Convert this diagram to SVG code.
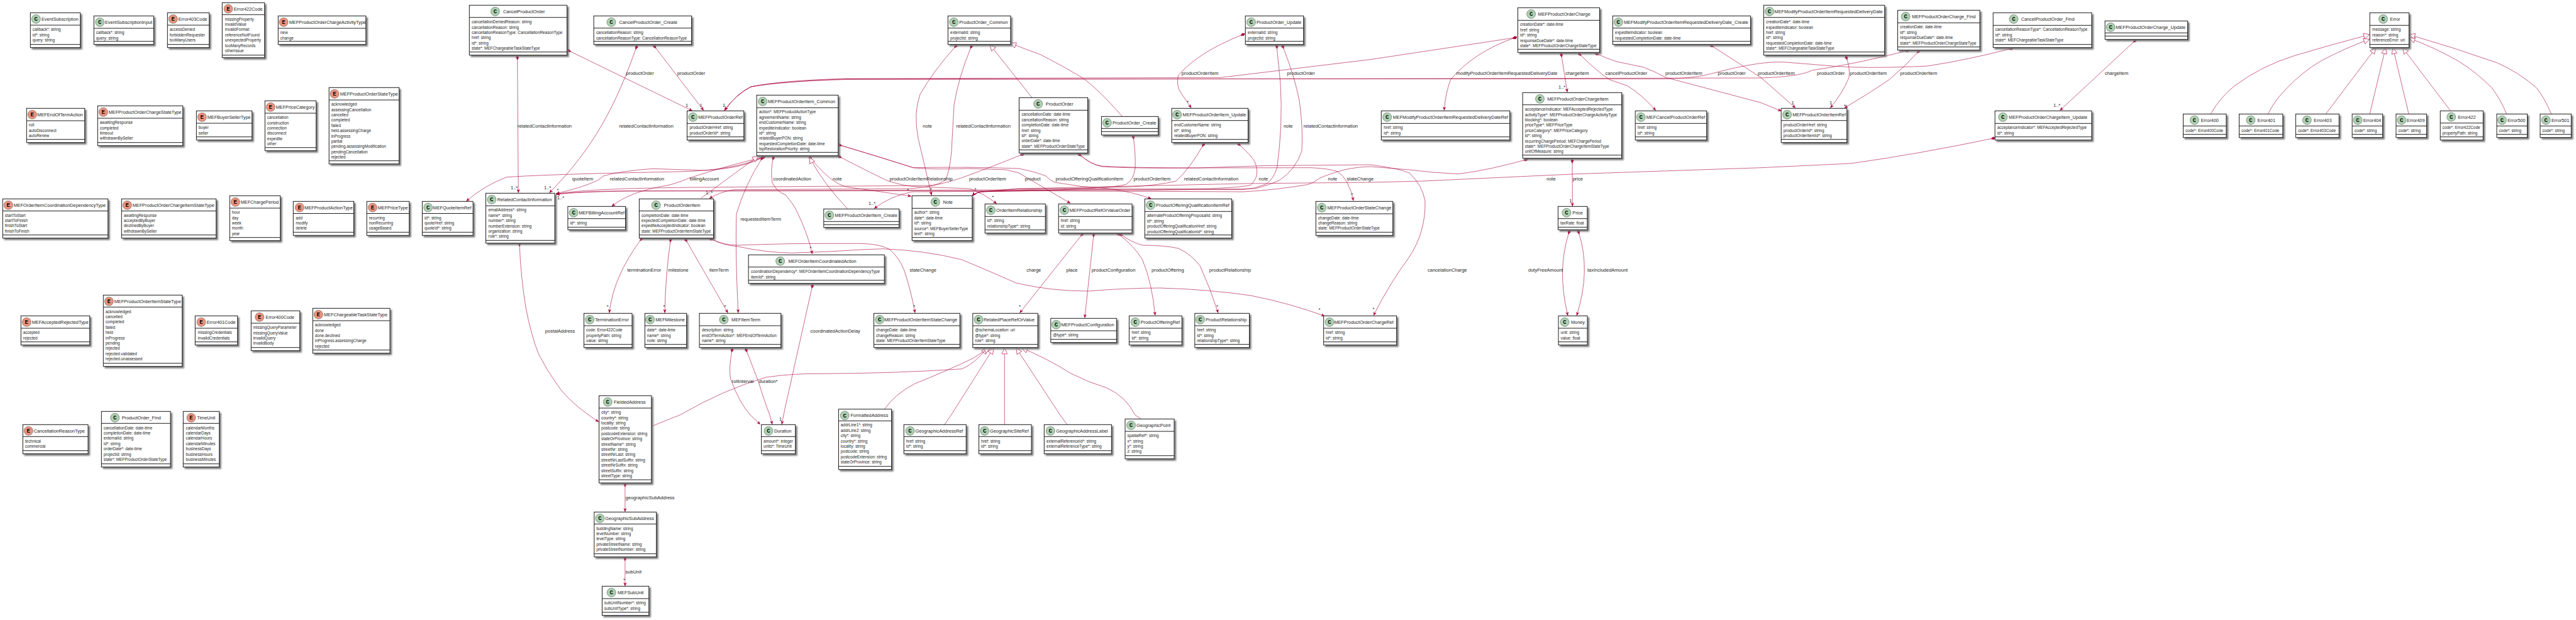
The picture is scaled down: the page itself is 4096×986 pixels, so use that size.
<svg xmlns="http://www.w3.org/2000/svg" width="4096" height="986" viewBox="0 0 4096 986">
<defs>
<filter id="s" x="-15%" y="-15%" width="135%" height="135%"><feDropShadow dx="2.6" dy="2.6" stdDeviation="0.9" flood-color="#777"/></filter>
<marker id="d" markerUnits="userSpaceOnUse" markerWidth="10" markerHeight="8" refX="4" refY="4" orient="auto"><polygon points="0,4 3.6,1.8 7.6,4 3.6,6.2" fill="#A80036" stroke="#A80036" stroke-width=".4"/></marker>
<marker id="a" markerUnits="userSpaceOnUse" markerWidth="8" markerHeight="8" refX="7" refY="4" orient="auto"><polygon points="1,1.4 7,4 1,6.6 2.8,4" fill="#A80036"/></marker>
<marker id="t" markerUnits="userSpaceOnUse" markerWidth="12" markerHeight="12" refX="11" refY="6" orient="auto"><polygon points="1.5,1.6 11,6 1.5,10.4" fill="#fff" stroke="#A80036" stroke-width=".6"/></marker>
</defs>
<style>
rect{fill:#fff;stroke:#111;stroke-width:.95;filter:url(#s)}
.l{fill:none;stroke:#111;stroke-width:.95}
circle{stroke:#444;stroke-width:.5}
.C circle{fill:#ADD1B2}
.E circle{fill:#EB937F}
text{font-family:"Liberation Sans",Arial,sans-serif;fill:#222}
.k{font-family:"Liberation Mono",monospace;font-weight:bold;font-size:9px;text-anchor:middle;fill:#000}
.t{font-size:7.3px}
.r{font-size:6.4px}
.m{font-size:7.5px}
.e{fill:none;stroke:#A80036;stroke-width:.6;marker-start:url(#d);marker-end:url(#a)}
.g{fill:none;stroke:#A80036;stroke-width:.6;marker-end:url(#t)}
</style>
<g id="connectors">
<path class="e" d="M822.7 91.7L824.2 306.7"/>
<path class="e" d="M904.5 80.7L1101 176.3"/>
<path class="e" d="M1012 75C980 165 945 235 873.4 306.7"/>
<path class="e" d="M1040.9 74L1118.9 175.7"/>
<path class="e" d="M2408.5 60L2180 94.5Q2060 109 1941 123.3L1345 125Q1240 128 1194 138Q1170 150 1152 175.7"/>
<path class="e" d="M3197.8 77.3Q3130 95 3065 105Q2960 110 2902 104L2840 99Q2800 96 2723 116.7Q2700 124 2650 125.5L1345 125.5Q1240 130 1194 138Q1170 150 1152 175.7"/>
<path class="e" d="M3032.6 80.7Q2950 102 2881.6 111.7Q2862 122 2800 124L1345 126.5Q1240 129 1194 138Q1170 150 1152 175.7"/>
<path class="e" d="M2408.5 60Q2343 83 2306.5 126.7Q2298 150 2296.3 175.7"/>
<path class="e" d="M2482.7 87.3L2492.1 146.7"/>
<path class="e" d="M2511.7 86Q2535 110 2559.4 126.7Q2575 132 2588 136.7Q2610 150 2632.9 175.7"/>
<path class="e" d="M2539 85.7Q2555 93 2571.7 98.3Q2595 103 2612.5 106.7Q2630 113 2649 123.3L2800 163.3L2832.6 176.7"/>
<path class="e" d="M2721.4 72.7L2800 123.3L2855 171.7"/>
<path class="e" d="M2935.9 91.7Q2942 108 2940 123.3Q2930 148 2910.2 171.7"/>
<path class="e" d="M3050.5 81.7Q3030 105 3004 126.7Q2970 150 2932.6 171.7"/>
<path class="e" d="M3394.5 65L3275.3 175.7"/>
<path class="e" d="M3169.2 220Q3050 245 2942.8 260L2800 266.7L2506 276.7L2261 288L2180 290L1977 292Q1800 296 1620 300L1560 305Q1550 307 1546 311.7"/>
<path class="e" d="M2426 254Q2370 270 2319 276.7Q2280 275 2241 270L2180 265Q2160 265 2137.7 270Q2115 276 2098.4 283.3Q2090 290 2080.5 293.3Q2030 302 1977 305L1620 303.3L1560 305Q1550 307 1546 311.7"/>
<path class="e" d="M2500 256L2500.3 328.3"/>
<path class="e" d="M1716.4 245.7Q1735 262 1752 265Q1800 268 1905 267L2084 266.7Q2115 268 2127 273Q2145 285 2152 319.3"/>
<path class="e" d="M1716.4 245.7Q1735 262 1752 264Q1800 267 1905 267L2012 263.5L2180 262Q2225 268 2241 275Q2262 295 2266 320Q2267 370 2240 410Q2210 450 2184 501.7"/>
<path class="e" d="M1213.5 250Q1167 271 1080 273L984 275Q860 278 805.6 281.7Q770 295 741.4 320"/>
<path class="e" d="M1213.5 250Q1180 268 1120 271L1037.7 268.3Q985 272 959 280Q950 292 884 308"/>
<path class="e" d="M1213.5 250Q1150 265 1095.7 283.3Q1075 292 1060 295Q1000 305 972.7 328.3"/>
<path class="e" d="M1625.4 245.7Q1570 268 1527.7 283.3Q1490 296 1450 300L1167 301.7Q1145 305 1127.8 315.7"/>
<path class="g" d="M1115 315L1206 248"/>
<path class="e" d="M1211.7 251.7Q1185 293 1171 340Q1169 400 1173.8 497.7"/>
<path class="e" d="M1229.6 251Q1225 270 1227.8 290Q1235 305 1249 310Q1262 325 1267 336Q1285 373 1291.6 404"/>
<path class="e" d="M1288.5 251Q1320 290 1345 297Q1400 305 1449 312"/>
<path class="g" d="M1347.4 331.7Q1310 293 1287 250"/>
<path class="e" d="M1335 249.3Q1375 270 1410 287Q1440 297 1460 297L1542 300Q1565 308 1584.8 324"/>
<path class="e" d="M1335 230.7Q1400 250 1452 266.7Q1480 270 1540 268L1600 270L1620 275L1702 323.3"/>
<path class="e" d="M1335 230.7Q1400 250 1452 266.7Q1540 265 1620 268Q1650 274 1663 280Q1670 287 1677 290Q1720 298 1763 300Q1800 305 1830.6 316"/>
<path class="e" d="M1519.8 73.3Q1484 113 1463 150Q1452 180 1460 220L1481.3 310.7"/>
<path class="e" d="M1544.4 74Q1524 123 1517 167Q1514 220 1513 240Q1510 275 1502.7 286.7Q1490 295 1477 295L1100 298Q920 300 884 309"/>
<path class="g" d="M1641 155.3L1574 71"/>
<path class="g" d="M1784.2 185Q1745 140 1720 123Q1690 105 1655 87Q1630 78 1606 68.5"/>
<path class="e" d="M1802 217.7Q1806 245 1805 267Q1803 285 1791 293Q1770 300 1620 304L1450 305Q1415 312 1390 331.7"/>
<path class="e" d="M1976 55Q1905 83 1873.5 120Q1870 135 1877 146.7L1894.2 171.7"/>
<path class="e" d="M2030.2 74L2036 133Q2040 200 2030.5 267Q2025 285 2012.7 293Q1995 300 1977 301.7L1620 300L1560 305Q1550 307 1546 311.7"/>
<path class="e" d="M2039.8 74Q2059 123 2066 160Q2072 200 2070 240Q2060 270 2034 287Q2010 297 1995 300L1798 303L1000 304Q920 305 884 309"/>
<path class="e" d="M1969.9 229.3Q1992 250 1995 257Q2005 280 1987.7 295Q1950 300 1905 300L1620 302.7L1560 305Q1550 307 1546 311.7"/>
<path class="e" d="M1913.5 230Q1892 268 1870 288Q1840 295 1798 297L1620 302L1000 303.5Q920 304 884 309"/>
<path class="e" d="M1019.8 380Q975 440 968.8 497.7"/>
<path class="e" d="M1066.2 381.7Q1058 440 1057 497.7"/>
<path class="e" d="M1090.7 381.7L1157.5 497.7"/>
<path class="e" d="M1130.5 380Q1150 390 1173 392Q1220 402 1259.5 402.3L1320 400L1369 397L1403 395.7Q1470 398 1529.6 413Q1575 432 1615.7 450Q1670 463 1730.5 463Q1790 458 1845 458Q1920 460 1988.8 470Q2050 482 2106.5 502.7"/>
<path class="e" d="M1130.5 380Q1150 390 1173 390Q1250 387 1320 387.3L1369 387.3Q1400 388 1414.8 396.7Q1430 410 1437.8 430Q1448 460 1455 497.7"/>
<path class="e" d="M1720.7 372.7L1621.4 497.7"/>
<path class="e" d="M1739 373.3L1724.8 505.7"/>
<path class="e" d="M1778 372.3Q1803 390 1816.6 413.3Q1832 450 1836.7 501.7"/>
<path class="e" d="M1782 372.7Q1798 385 1816.6 390Q1850 390 1874 395Q1895 405 1908.4 423.3Q1925 460 1937 497.7"/>
<path class="e" d="M826 388.3Q828 440 836.2 490Q845 535 856.6 563.3Q870 590 887 613Q905 640 952 671"/>
<path class="e" d="M993.9 770.7V814"/>
<path class="e" d="M993.9 888.3V932.3"/>
<path class="e" d="M1164 556.7Q1158 590 1162 603Q1175 640 1193 660L1209 675"/>
<path class="e" d="M1186.6 556.7L1206 607Q1216 640 1224 660L1228 675"/>
<path class="e" d="M1291.6 455L1248 650L1243 675"/>
<path class="e" d="M2495 369Q2475 430 2493 502"/>
<path class="e" d="M2510 369Q2530 430 2507 502"/>
<path class="g" d="M1036 678Q1060 668 1081 660Q1150 620 1218 600Q1260 594 1300 594.3Q1420 594 1529.6 586.7Q1550 578 1569.8 553.3"/>
<path class="g" d="M1406.8 650Q1425 625 1455 610Q1505 590 1546.8 570Q1562 560 1574.4 553.3"/>
<path class="g" d="M1501.8 675.3L1512.4 660L1580 553.3"/>
<path class="g" d="M1597.3 675.3V553.3"/>
<path class="g" d="M1697 675.3L1685.7 660L1615.7 553.3"/>
<path class="g" d="M1815 667L1805 660Q1790 630 1759.2 616.7Q1730 608 1701.8 593.3Q1665 570 1624.3 553.3"/>
<path class="g" d="M3515.3 181Q3530 155 3552.9 136.7Q3595 105 3649 88.3Q3710 70 3768 55"/>
<path class="g" d="M3606.4 181Q3618 158 3636.5 140Q3660 115 3690.8 96.7Q3730 76 3768 62.3"/>
<path class="g" d="M3698.3 181L3777.7 76"/>
<path class="g" d="M3768.1 181L3793.2 76"/>
<path class="g" d="M3830 181L3805 76"/>
<path class="g" d="M3896.5 176.3L3820.4 76"/>
<path class="g" d="M3985.5 181Q3976 158 3962.5 140Q3938 115 3908.2 96.7Q3870 75 3830.4 60.7"/>
<path class="g" d="M4056.6 181Q4047 158 4033.6 140Q4005 115 3970.9 100Q3900 75 3830.4 55"/>
<g class="m">
<text x="822.7" y="203">relatedContactInformation</text>
<text x="984.5" y="203">relatedContactInformation</text>
<text x="995.5" y="119">productOrder</text>
<text x="1077" y="119">productOrder</text>
<text x="2046.6" y="119">productOrder</text>
<text x="2731.6" y="119">productOrder</text>
<text x="2889" y="119">productOrder</text>
<text x="2315.5" y="119">modifyProductOrderItemRequestedDeliveryDate</text>
<text x="2488.9" y="119">chargeItem</text>
<text x="2552.5" y="119">cancelProductOrder</text>
<text x="2648" y="119">productOrderItem</text>
<text x="2795" y="119">productOrderItem</text>
<text x="2941.6" y="119">productOrderItem</text>
<text x="3021.5" y="119">productOrderItem</text>
<text x="3346.7" y="119">chargeItem</text>
<text x="1878.8" y="119">productOrderItem</text>
<text x="1467.3" y="203">note</text>
<text x="1520.5" y="203">relatedContactInformation</text>
<text x="2040.9" y="203">note</text>
<text x="2072.7" y="203">relatedContactInformation</text>
<text x="909.8" y="287.4">quoteItem</text>
<text x="969.8" y="287.4">relatedContactInformation</text>
<text x="1096.8" y="287.4">billingAccount</text>
<text x="1229.6" y="287.4">coordinatedAction</text>
<text x="1324" y="287.4">note</text>
<text x="1414.5" y="287.4">productOrderItemRelationship</text>
<text x="1540.9" y="287.4">productOrderItem</text>
<text x="1629.6" y="287.4">product</text>
<text x="1678.5" y="287.4">productOfferingQualificationItem</text>
<text x="1802.4" y="287.4">productOrderItem</text>
<text x="1882.8" y="287.4">relatedContactInformation</text>
<text x="2001.6" y="287.4">note</text>
<text x="2111.6" y="287.4">note</text>
<text x="2141.6" y="287.4">stateChange</text>
<text x="2459" y="287.4">note</text>
<text x="2500.7" y="287.4">price</text>
<text x="1177.4" y="350.7">requestedItemTerm</text>
<text x="997.4" y="431.7">terminationError</text>
<text x="1062.6" y="431.7">milestone</text>
<text x="1127.9" y="431.7">itemTerm</text>
<text x="1446.4" y="431.7">stateChange</text>
<text x="1632.3" y="431.7">charge</text>
<text x="1695.5" y="431.7">place</text>
<text x="1735.7" y="431.7">productConfiguration</text>
<text x="1831" y="431.7">productOffering</text>
<text x="1922.8" y="431.7">productRelationship</text>
<text x="2270" y="431.7">cancelationCharge</text>
<text x="2430" y="431.7">dutyFreeAmount</text>
<text x="2524" y="431.7">taxIncludedAmount</text>
<text x="866.8" y="528.7">postalAddress</text>
<text x="1288.6" y="528.7">coordinatedActionDelay</text>
<text x="1163.6" y="609">rollInterval</text>
<text x="1206.5" y="609">duration*</text>
<text x="994.6" y="794.4">geographicSubAddress</text>
<text x="994.6" y="912.4">subUnit</text>
<text x="812" y="301">1..*</text>
<text x="865" y="301">1..*</text>
<text x="885.5" y="304.5">*</text>
<text x="886" y="317">1..*</text>
<text x="1090" y="170.4">1</text>
<text x="1112.6" y="170.4">1</text>
<text x="1149" y="170.4">1</text>
<text x="1122" y="309.4">1..*</text>
<text x="1381" y="326">1..*</text>
<text x="1442" y="305.4">*</text>
<text x="1478.7" y="304">*</text>
<text x="1549.4" y="304.4">*</text>
<text x="1577.2" y="316">*</text>
<text x="1887" y="164.7">*</text>
<text x="2148.5" y="312">*</text>
<text x="2478" y="141">1..*</text>
<text x="2495.2" y="322">1</text>
<text x="2848.6" y="166">1</text>
<text x="2909" y="166">1</text>
<text x="2932" y="170.5">*</text>
<text x="3265" y="170.4">1..*</text>
<text x="964.8" y="490">*</text>
<text x="1054.5" y="490">*</text>
<text x="1151.4" y="490">*</text>
<text x="1287.5" y="396.7">*</text>
<text x="1452.3" y="490">*</text>
<text x="1619.9" y="490">*</text>
<text x="1933.9" y="490">*</text>
<text x="2096.4" y="495.4">*</text>
<text x="2182.5" y="494.4">*</text>
<text x="1239" y="669.4">1</text>
<text x="991" y="925">*</text>
</g>
</g>
<g id="EventSubscription" class="C" transform="translate(48.3,20.3)"><rect width="79.4" height="55.4"/><path class="l" d="M0 19.7H79.4M0 50.4H79.4"/><circle cx="9" cy="10" r="7"/><text class="k" x="9" y="13">C</text><text class="t" x="17.7" y="12.7">EventSubscription</text><text class="r" y="20.5"><tspan x="3.5" dy="8.4">callback*: string</tspan><tspan x="3.5" dy="8.4">id*: string</tspan><tspan x="3.5" dy="8.4">query: string</tspan></text></g>
<g id="EventSubscriptionInput" class="C" transform="translate(149.3,25.3)"><rect width="95" height="45.4"/><path class="l" d="M0 19.7H95M0 40.4H95"/><circle cx="9.4" cy="10" r="7"/><text class="k" x="9.4" y="13">C</text><text class="t" x="17.7" y="12.7">EventSubscriptionInput</text><text class="r" y="20.5"><tspan x="3.5" dy="8.4">callback*: string</tspan><tspan x="3.5" dy="8.4">query: string</tspan></text></g>
<g id="Error403Code" class="E" transform="translate(266.3,20.3)"><rect width="66.4" height="55.4"/><path class="l" d="M0 19.7H66.4M0 50.4H66.4"/><circle cx="9" cy="10" r="7"/><text class="k" x="9" y="13">E</text><text class="t" x="17.4" y="12.7">Error403Code</text><text class="r" y="20.5"><tspan x="3.5" dy="8.4">accessDenied</tspan><tspan x="3.5" dy="8.4">forbiddenRequester</tspan><tspan x="3.5" dy="8.4">tooManyUsers</tspan></text></g>
<g id="Error422Code" class="E" transform="translate(353.3,4.3)"><rect width="67.4" height="87.4"/><path class="l" d="M0 19H67.4M0 83.4H67.4"/><circle cx="9.7" cy="9.7" r="7"/><text class="k" x="9.7" y="12.7">E</text><text class="t" x="18.4" y="12.4">Error422Code</text><text class="r" y="20"><tspan x="4.5" dy="8.4">missingProperty</tspan><tspan x="4.5" dy="8.4">invalidValue</tspan><tspan x="4.5" dy="8.4">invalidFormat</tspan><tspan x="4.5" dy="8.4">referenceNotFound</tspan><tspan x="4.5" dy="8.4">unexpectedProperty</tspan><tspan x="4.5" dy="8.4">tooManyRecords</tspan><tspan x="4.5" dy="8.4">otherIssue</tspan></text></g>
<g id="MEFProductOrderChargeActivityType" class="E" transform="translate(442.3,25.3)"><rect width="139.5" height="45.4"/><path class="l" d="M0 19.7H139.5M0 40.4H139.5"/><circle cx="8.7" cy="10" r="7"/><text class="k" x="8.7" y="13">E</text><text class="t" x="17.4" y="12.7">MEFProductOrderChargeActivityType</text><text class="r" y="20.5"><tspan x="3.5" dy="8.4">new</tspan><tspan x="3.5" dy="8.4">change</tspan></text></g>
<g id="MEFEndOfTermAction" class="E" transform="translate(42.3,172.3)"><rect width="92.4" height="54.4"/><path class="l" d="M0 19.7H92.4M0 49.4H92.4"/><circle cx="9" cy="10" r="7"/><text class="k" x="9" y="13">E</text><text class="t" x="17" y="12.7">MEFEndOfTermAction</text><text class="r" y="20.5"><tspan x="3.5" dy="8.4">roll</tspan><tspan x="3.5" dy="8.4">autoDisconnect</tspan><tspan x="3.5" dy="8.4">autoRenew</tspan></text></g>
<g id="MEFProductOrderChargeStateType" class="E" transform="translate(155.3,168.3)"><rect width="135.4" height="63.4"/><path class="l" d="M0 19.7H135.4M0 58.4H135.4"/><circle cx="9" cy="10" r="7"/><text class="k" x="9" y="13">E</text><text class="t" x="17.4" y="12.7">MEFProductOrderChargeStateType</text><text class="r" y="20.5"><tspan x="3.5" dy="8.4">awaitingResponse</tspan><tspan x="3.5" dy="8.4">completed</tspan><tspan x="3.5" dy="8.4">timeout</tspan><tspan x="3.5" dy="8.4">withdrawnBySeller</tspan></text></g>
<g id="MEFBuyerSellerType" class="E" transform="translate(312.3,176.3)"><rect width="88.4" height="46.4"/><path class="l" d="M0 19.7H88.4M0 41.4H88.4"/><circle cx="9" cy="10" r="7"/><text class="k" x="9" y="13">E</text><text class="t" x="17.4" y="12.7">MEFBuyerSellerType</text><text class="r" y="20.5"><tspan x="3.5" dy="8.4">buyer</tspan><tspan x="3.5" dy="8.4">seller</tspan></text></g>
<g id="MEFPriceCategory" class="E" transform="translate(421.3,160.3)"><rect width="81.4" height="79.4"/><path class="l" d="M0 19.7H81.4M0 74.4H81.4"/><circle cx="9" cy="10" r="7"/><text class="k" x="9" y="13">E</text><text class="t" x="17.4" y="12.7">MEFPriceCategory</text><text class="r" y="20.5"><tspan x="3.5" dy="8.4">cancellation</tspan><tspan x="3.5" dy="8.4">construction</tspan><tspan x="3.5" dy="8.4">connection</tspan><tspan x="3.5" dy="8.4">disconnect</tspan><tspan x="3.5" dy="8.4">expedite</tspan><tspan x="3.5" dy="8.4">other</tspan></text></g>
<g id="MEFProductOrderStateType" class="E" transform="translate(523.2,139.3)"><rect width="111.4" height="121.4"/><path class="l" d="M0 19.7H111.4M0 116.4H111.4"/><circle cx="8.8" cy="10" r="7"/><text class="k" x="8.8" y="13">E</text><text class="t" x="17.5" y="12.7">MEFProductOrderStateType</text><text class="r" y="20.5"><tspan x="3.5" dy="8.4">acknowledged</tspan><tspan x="3.5" dy="8.4">assessingCancellation</tspan><tspan x="3.5" dy="8.4">cancelled</tspan><tspan x="3.5" dy="8.4">completed</tspan><tspan x="3.5" dy="8.4">failed</tspan><tspan x="3.5" dy="8.4">held.assessingCharge</tspan><tspan x="3.5" dy="8.4">inProgress</tspan><tspan x="3.5" dy="8.4">partial</tspan><tspan x="3.5" dy="8.4">pending.assessingModification</tspan><tspan x="3.5" dy="8.4">pendingCancellation</tspan><tspan x="3.5" dy="8.4">rejected</tspan></text></g>
<g id="MEFOrderItemCoordinationDependencyType" class="E" transform="translate(4.3,316.3)"><rect width="167.4" height="62.4"/><path class="l" d="M0 19.2H167.4M0 57.4H167.4"/><circle cx="9" cy="10" r="7"/><text class="k" x="9" y="13">E</text><text class="t" x="17.4" y="12.7">MEFOrderItemCoordinationDependencyType</text><text class="r" y="20"><tspan x="3.5" dy="8.4">startToStart</tspan><tspan x="3.5" dy="8.4">startToFinish</tspan><tspan x="3.5" dy="8.4">finishToStart</tspan><tspan x="3.5" dy="8.4">finishToFinish</tspan></text></g>
<g id="MEFProductOrderChargeItemStateType" class="E" transform="translate(193.3,316.3)"><rect width="150.4" height="62.4"/><path class="l" d="M0 19.2H150.4M0 57.4H150.4"/><circle cx="9" cy="10" r="7"/><text class="k" x="9" y="13">E</text><text class="t" x="17.4" y="12.7">MEFProductOrderChargeItemStateType</text><text class="r" y="20"><tspan x="3.5" dy="8.4">awaitingResponse</tspan><tspan x="3.5" dy="8.4">acceptedByBuyer</tspan><tspan x="3.5" dy="8.4">declinedByBuyer</tspan><tspan x="3.5" dy="8.4">withdrawnBySeller</tspan></text></g>
<g id="MEFChargePeriod" class="E" transform="translate(365.3,311.3)"><rect width="80.4" height="71.4"/><path class="l" d="M0 19.7H80.4M0 66.4H80.4"/><circle cx="9" cy="10" r="7"/><text class="k" x="9" y="13">E</text><text class="t" x="17.4" y="12.7">MEFChargePeriod</text><text class="r" y="20.5"><tspan x="3.5" dy="8.4">hour</tspan><tspan x="3.5" dy="8.4">day</tspan><tspan x="3.5" dy="8.4">week</tspan><tspan x="3.5" dy="8.4">month</tspan><tspan x="3.5" dy="8.4">year</tspan></text></g>
<g id="MEFProductActionType" class="E" transform="translate(466.3,320.3)"><rect width="96.2" height="54"/><path class="l" d="M0 19.2H96.2M0 49H96.2"/><circle cx="10" cy="9.7" r="7"/><text class="k" x="10" y="12.7">E</text><text class="t" x="18" y="12.4">MEFProductActionType</text><text class="r" y="20"><tspan x="4" dy="8.4">add</tspan><tspan x="4" dy="8.4">modify</tspan><tspan x="4" dy="8.4">delete</tspan></text></g>
<g id="MEFPriceType" class="E" transform="translate(583.2,320.3)"><rect width="67.5" height="54"/><path class="l" d="M0 19.2H67.5M0 49H67.5"/><circle cx="9.3" cy="9.7" r="7"/><text class="k" x="9.3" y="12.7">E</text><text class="t" x="17.5" y="12.4">MEFPriceType</text><text class="r" y="20"><tspan x="3.5" dy="8.4">recurring</tspan><tspan x="3.5" dy="8.4">nonRecurring</tspan><tspan x="3.5" dy="8.4">usageBased</tspan></text></g>
<g id="MEFQuoteItemRef" class="C" transform="translate(671.4,320.3)"><rect width="80.7" height="54"/><path class="l" d="M0 19.2H80.7M0 49H80.7"/><circle cx="9.3" cy="9.7" r="7"/><text class="k" x="9.3" y="12.7">C</text><text class="t" x="17.2" y="12.4">MEFQuoteItemRef</text><text class="r" y="20"><tspan x="3.5" dy="8.4">id*: string</tspan><tspan x="3.5" dy="8.4">quoteHref: string</tspan><tspan x="3.5" dy="8.4">quoteId*: string</tspan></text></g>
<g id="RelatedContactInformation" class="C" transform="translate(772.5,307.3)"><rect width="109.6" height="79.4"/><path class="l" d="M0 20H109.6M0 75H109.6"/><circle cx="9.3" cy="10" r="7"/><text class="k" x="9.3" y="13">C</text><text class="t" x="18.2" y="12.7">RelatedContactInformation</text><text class="r" y="20.7"><tspan x="4" dy="8.4">emailAddress*: string</tspan><tspan x="4" dy="8.4">name*: string</tspan><tspan x="4" dy="8.4">number*: string</tspan><tspan x="4" dy="8.4">numberExtension: string</tspan><tspan x="4" dy="8.4">organization: string</tspan><tspan x="4" dy="8.4">role*: string</tspan></text></g>
<g id="MEFBillingAccountRef" class="C" transform="translate(902.9,328.3)"><rect width="91.7" height="37"/><path class="l" d="M0 19.4H91.7M0 33H91.7"/><circle cx="9.2" cy="10" r="7"/><text class="k" x="9.2" y="13">C</text><text class="t" x="17.5" y="12.7">MEFBillingAccountRef</text><text class="r" y="20.3"><tspan x="3.5" dy="8.4">id*: string</tspan></text></g>
<g id="ProductOrderItem" class="C" transform="translate(1016.4,316.3)"><rect width="118.2" height="62.4"/><path class="l" d="M0 19.2H118.2M0 57.4H118.2"/><circle cx="26.8" cy="10" r="7"/><text class="k" x="26.8" y="13">C</text><text class="t" x="39.3" y="12.7">ProductOrderItem</text><text class="r" y="20"><tspan x="3.5" dy="8.4">completionDate: date-time</tspan><tspan x="3.5" dy="8.4">expectedCompletionDate: date-time</tspan><tspan x="3.5" dy="8.4">expediteAcceptedIndicator: boolean</tspan><tspan x="3.5" dy="8.4">state: MEFProductOrderItemStateType</tspan></text></g>
<g id="MEFProductOrderItem_Common" class="C" transform="translate(1203.2,151.3)"><rect width="129.6" height="96.4"/><path class="l" d="M0 20H129.6M0 91H129.6"/><circle cx="9.6" cy="10" r="7"/><text class="k" x="9.6" y="13">C</text><text class="t" x="17.8" y="12.7">MEFProductOrderItem_Common</text><text class="r" y="20.7"><tspan x="3.8" dy="8.4">action*: MEFProductActionType</tspan><tspan x="3.8" dy="8.4">agreementName: string</tspan><tspan x="3.8" dy="8.4">endCustomerName: string</tspan><tspan x="3.8" dy="8.4">expediteIndicator: boolean</tspan><tspan x="3.8" dy="8.4">id*: string</tspan><tspan x="3.8" dy="8.4">relatedBuyerPON: string</tspan><tspan x="3.8" dy="8.4">requestedCompletionDate: date-time</tspan><tspan x="3.8" dy="8.4">tspRestorationPriority: string</tspan></text></g>
<g id="MEFProductOrderRef" class="C" transform="translate(1092.5,176.3)"><rect width="90.3" height="46.4"/><path class="l" d="M0 20H90.3M0 41.4H90.3"/><circle cx="9.3" cy="10" r="7"/><text class="k" x="9.3" y="13">C</text><text class="t" x="17.8" y="12.7">MEFProductOrderRef</text><text class="r" y="20.7"><tspan x="4" dy="8.4">productOrderHref: string</tspan><tspan x="4" dy="8.4">productOrderId*: string</tspan></text></g>
<g id="CancelProductOrder" class="C" transform="translate(746.3,8.3)"><rect width="155.3" height="79.4"/><path class="l" d="M0 19.4H155.3M0 74.4H155.3"/><circle cx="41.1" cy="10" r="7"/><text class="k" x="41.1" y="13">C</text><text class="t" x="53.6" y="12.7">CancelProductOrder</text><text class="r" y="20.5"><tspan x="3.8" dy="8.4">cancellationDeniedReason: string</tspan><tspan x="3.8" dy="8.4">cancellationReason: string</tspan><tspan x="3.8" dy="8.4">cancellationReasonType: CancellationReasonType</tspan><tspan x="3.8" dy="8.4">href: string</tspan><tspan x="3.8" dy="8.4">id*: string</tspan><tspan x="3.8" dy="8.4">state*: MEFChargeableTaskStateType</tspan></text></g>
<g id="CancelProductOrder_Create" class="C" transform="translate(944.1,25.3)"><rect width="155.5" height="45.4"/><path class="l" d="M0 19.4H155.5M0 40.4H155.5"/><circle cx="27.9" cy="10" r="7"/><text class="k" x="27.9" y="13">C</text><text class="t" x="40.4" y="12.7">CancelProductOrder_Create</text><text class="r" y="20.5"><tspan x="3.8" dy="8.4">cancellationReason: string</tspan><tspan x="3.8" dy="8.4">cancellationReasonType: CancellationReasonType</tspan></text></g>
<g id="ProductOrder_Common" class="C" transform="translate(1507.3,25.3)"><rect width="99.6" height="45.4"/><path class="l" d="M0 19.4H99.6M0 40.4H99.6"/><circle cx="9.3" cy="10" r="7"/><text class="k" x="9.3" y="13">C</text><text class="t" x="17.9" y="12.7">ProductOrder_Common</text><text class="r" y="20.5"><tspan x="3.8" dy="8.4">externalId: string</tspan><tspan x="3.8" dy="8.4">projectId: string</tspan></text></g>
<g id="ProductOrder" class="C" transform="translate(1620.4,155.3)"><rect width="109.2" height="88"/><path class="l" d="M0 20H109.2M0 83H109.2"/><circle cx="30.3" cy="10" r="7"/><text class="k" x="30.3" y="13">C</text><text class="t" x="42.4" y="12.7">ProductOrder</text><text class="r" y="20.7"><tspan x="4" dy="8.4">cancellationDate: date-time</tspan><tspan x="4" dy="8.4">cancellationReason: string</tspan><tspan x="4" dy="8.4">completionDate: date-time</tspan><tspan x="4" dy="8.4">href: string</tspan><tspan x="4" dy="8.4">id*: string</tspan><tspan x="4" dy="8.4">orderDate*: date-time</tspan><tspan x="4" dy="8.4">state*: MEFProductOrderStateType</tspan></text></g>
<g id="ProductOrder_Create" class="C" transform="translate(1751.4,185.3)"><rect width="90.3" height="29.4"/><path class="l" d="M0 19H90.3M0 24H90.3"/><circle cx="8.9" cy="10" r="7"/><text class="k" x="8.9" y="13">C</text><text class="t" x="17.5" y="12.7">ProductOrder_Create</text></g>
<g id="ProductOrder_Update" class="C" transform="translate(1980.2,25.3)"><rect width="92.5" height="45.4"/><path class="l" d="M0 19.4H92.5M0 40.4H92.5"/><circle cx="9.3" cy="10" r="7"/><text class="k" x="9.3" y="13">C</text><text class="t" x="17.8" y="12.7">ProductOrder_Update</text><text class="r" y="20.5"><tspan x="3.8" dy="8.4">externalId: string</tspan><tspan x="3.8" dy="8.4">projectId: string</tspan></text></g>
<g id="MEFProductOrderItem_Update" class="C" transform="translate(1863.1,172.3)"><rect width="121.4" height="54.4"/><path class="l" d="M0 19.4H121.4M0 49.4H121.4"/><circle cx="8.6" cy="10" r="7"/><text class="k" x="8.6" y="13">C</text><text class="t" x="17.5" y="12.7">MEFProductOrderItem_Update</text><text class="r" y="20.5"><tspan x="3.8" dy="8.4">endCustomerName: string</tspan><tspan x="3.8" dy="8.4">id*: string</tspan><tspan x="3.8" dy="8.4">relatedBuyerPON: string</tspan></text></g>
<g id="MEFProductOrderCharge" class="C" transform="translate(2413.4,12.3)"><rect width="130.1" height="71"/><path class="l" d="M0 20H130.1M0 66H130.1"/><circle cx="21.2" cy="10" r="7"/><text class="k" x="21.2" y="13">C</text><text class="t" x="32.2" y="12.7">MEFProductOrderCharge</text><text class="r" y="20.7"><tspan x="3.6" dy="8.4">creationDate*: date-time</tspan><tspan x="3.6" dy="8.4">href: string</tspan><tspan x="3.6" dy="8.4">id*: string</tspan><tspan x="3.6" dy="8.4">responseDueDate*: date-time</tspan><tspan x="3.6" dy="8.4">state*: MEFProductOrderChargeStateType</tspan></text></g>
<g id="MEFModifyProductOrderItemRequestedDeliveryDate_Create" class="C" transform="translate(2564.3,25.3)"><rect width="219.1" height="45.4"/><path class="l" d="M0 19.4H219.1M0 40.4H219.1"/><circle cx="9" cy="10" r="7"/><text class="k" x="9" y="13">C</text><text class="t" x="17.6" y="12.7">MEFModifyProductOrderItemRequestedDeliveryDate_Create</text><text class="r" y="20.5"><tspan x="3.8" dy="8.4">expediteIndicator: boolean</tspan><tspan x="3.8" dy="8.4">requestedCompletionDate: date-time</tspan></text></g>
<g id="MEFModifyProductOrderItemRequestedDeliveryDateRef" class="C" transform="translate(2196.3,176.3)"><rect width="204.4" height="46.4"/><path class="l" d="M0 20H204.4M0 41.4H204.4"/><circle cx="9.4" cy="10" r="7"/><text class="k" x="9.4" y="13">C</text><text class="t" x="18.4" y="12.7">MEFModifyProductOrderItemRequestedDeliveryDateRef</text><text class="r" y="20.7"><tspan x="4" dy="8.4">href: string</tspan><tspan x="4" dy="8.4">id*: string</tspan></text></g>
<g id="MEFProductOrderChargeItem" class="C" transform="translate(2421.1,147.3)"><rect width="157.5" height="104.4"/><path class="l" d="M0 19.4H157.5M0 99.4H157.5"/><circle cx="27.4" cy="10" r="7"/><text class="k" x="27.4" y="13">C</text><text class="t" x="39.2" y="12.7">MEFProductOrderChargeItem</text><text class="r" y="20.5"><tspan x="3.6" dy="8.4">acceptanceIndicator: MEFAcceptedRejectedType</tspan><tspan x="3.6" dy="8.4">activityType*: MEFProductOrderChargeActivityType</tspan><tspan x="3.6" dy="8.4">blocking*: boolean</tspan><tspan x="3.6" dy="8.4">priceType*: MEFPriceType</tspan><tspan x="3.6" dy="8.4">priceCategory*: MEFPriceCategory</tspan><tspan x="3.6" dy="8.4">id*: string</tspan><tspan x="3.6" dy="8.4">recurringChargePeriod: MEFChargePeriod</tspan><tspan x="3.6" dy="8.4">state*: MEFProductOrderChargeItemStateType</tspan><tspan x="3.6" dy="8.4">unitOfMeasure: string</tspan></text></g>
<g id="MEFCancelProductOrderRef" class="C" transform="translate(2600.2,176.3)"><rect width="113.5" height="46.4"/><path class="l" d="M0 20H113.5M0 41.4H113.5"/><circle cx="9" cy="10" r="7"/><text class="k" x="9" y="13">C</text><text class="t" x="17.6" y="12.7">MEFCancelProductOrderRef</text><text class="r" y="20.7"><tspan x="3.6" dy="8.4">href: string</tspan><tspan x="3.6" dy="8.4">id*: string</tspan></text></g>
<g id="MEFModifyProductOrderItemRequestedDeliveryDate" class="C" transform="translate(2804.5,8.3)"><rect width="192.2" height="79.4"/><path class="l" d="M0 19.4H192.2M0 74.4H192.2"/><circle cx="9" cy="10" r="7"/><text class="k" x="9" y="13">C</text><text class="t" x="17.1" y="12.7">MEFModifyProductOrderItemRequestedDeliveryDate</text><text class="r" y="20.5"><tspan x="3.6" dy="8.4">creationDate*: date-time</tspan><tspan x="3.6" dy="8.4">expediteIndicator: boolean</tspan><tspan x="3.6" dy="8.4">href: string</tspan><tspan x="3.6" dy="8.4">id*: string</tspan><tspan x="3.6" dy="8.4">requestedCompletionDate: date-time</tspan><tspan x="3.6" dy="8.4">state*: MEFChargeableTaskStateType</tspan></text></g>
<g id="MEFProductOrderCharge_Find" class="C" transform="translate(3017.5,16.3)"><rect width="130.5" height="63.4"/><path class="l" d="M0 20H130.5M0 58.4H130.5"/><circle cx="12.6" cy="10" r="7"/><text class="k" x="12.6" y="13">C</text><text class="t" x="22.4" y="12.7">MEFProductOrderCharge_Find</text><text class="r" y="20.7"><tspan x="3.6" dy="8.4">creationDate: date-time</tspan><tspan x="3.6" dy="8.4">id*: string</tspan><tspan x="3.6" dy="8.4">responseDueDate*: date-time</tspan><tspan x="3.6" dy="8.4">state*: MEFProductOrderChargeStateType</tspan></text></g>
<g id="CancelProductOrder_Find" class="C" transform="translate(3169.2,20.3)"><rect width="156.7" height="55.4"/><path class="l" d="M0 20H156.7M0 50.4H156.7"/><circle cx="32.7" cy="10" r="7"/><text class="k" x="32.7" y="13">C</text><text class="t" x="44.5" y="12.7">CancelProductOrder_Find</text><text class="r" y="20.7"><tspan x="3.4" dy="8.4">cancellationReasonType*: CancellationReasonType</tspan><tspan x="3.4" dy="8.4">id*: string</tspan><tspan x="3.4" dy="8.4">state*: MEFChargeableTaskStateType</tspan></text></g>
<g id="MEFProductOrderCharge_Update" class="C" transform="translate(3347.1,33.3)"><rect width="131.4" height="29.4"/><path class="l" d="M0 19H131.4M0 24H131.4"/><circle cx="9" cy="10" r="7"/><text class="k" x="9" y="13">C</text><text class="t" x="17.2" y="12.7">MEFProductOrderCharge_Update</text></g>
<g id="MEFProductOrderChargeItem_Update" class="C" transform="translate(3172.1,176.3)"><rect width="153.8" height="46.4"/><path class="l" d="M0 20H153.8M0 41.4H153.8"/><circle cx="12.6" cy="10" r="7"/><text class="k" x="12.6" y="13">C</text><text class="t" x="22" y="12.7">MEFProductOrderChargeItem_Update</text><text class="r" y="20.7"><tspan x="3.6" dy="8.4">acceptanceIndicator*: MEFAcceptedRejectedType</tspan><tspan x="3.6" dy="8.4">id*: string</tspan></text></g>
<g id="MEFProductOrderItemRef" class="C" transform="translate(2832.2,172.3)"><rect width="104.5" height="54.4"/><path class="l" d="M0 19.4H104.5M0 49.4H104.5"/><circle cx="9.4" cy="10" r="7"/><text class="k" x="9.4" y="13">C</text><text class="t" x="18" y="12.7">MEFProductOrderItemRef</text><text class="r" y="20.5"><tspan x="3.6" dy="8.4">productOrderHref: string</tspan><tspan x="3.6" dy="8.4">productOrderId*: string</tspan><tspan x="3.6" dy="8.4">productOrderItemId*: string</tspan></text></g>
<g id="Error" class="C" transform="translate(3768.1,20.3)"><rect width="62.3" height="55.4"/><path class="l" d="M0 20H62.3M0 50.4H62.3"/><circle cx="21.3" cy="10" r="7"/><text class="k" x="21.3" y="13">C</text><text class="t" x="32.2" y="12.7">Error</text><text class="r" y="20.7"><tspan x="4" dy="8.4">message: string</tspan><tspan x="4" dy="8.4">reason*: string</tspan><tspan x="4" dy="8.4">referenceError: uri</tspan></text></g>
<g id="Error400" class="C" transform="translate(3471.4,181.3)"><rect width="68.5" height="37.4"/><path class="l" d="M0 19H68.5M0 32.4H68.5"/><circle cx="17.9" cy="9.7" r="7"/><text class="k" x="17.9" y="12.7">C</text><text class="t" x="28" y="12.4">Error400</text><text class="r" y="20"><tspan x="3.6" dy="8.4">code*: Error400Code</tspan></text></g>
<g id="Error401" class="C" transform="translate(3560.4,181.3)"><rect width="69.4" height="37.4"/><path class="l" d="M0 19H69.4M0 32.4H69.4"/><circle cx="18.4" cy="9.7" r="7"/><text class="k" x="18.4" y="12.7">C</text><text class="t" x="29.2" y="12.4">Error401</text><text class="r" y="20"><tspan x="3.6" dy="8.4">code*: Error401Code</tspan></text></g>
<g id="Error403" class="C" transform="translate(3650.3,181.3)"><rect width="68.9" height="37.4"/><path class="l" d="M0 19H68.9M0 32.4H68.9"/><circle cx="17.9" cy="9.7" r="7"/><text class="k" x="17.9" y="12.7">C</text><text class="t" x="28.8" y="12.4">Error403</text><text class="r" y="20"><tspan x="3.6" dy="8.4">code*: Error403Code</tspan></text></g>
<g id="Error404" class="C" transform="translate(3740.1,181.3)"><rect width="48.5" height="37.4"/><path class="l" d="M0 19H48.5M0 32.4H48.5"/><circle cx="8.8" cy="9.7" r="7"/><text class="k" x="8.8" y="12.7">C</text><text class="t" x="17.6" y="12.4">Error404</text><text class="r" y="20"><tspan x="3.6" dy="8.4">code*: string</tspan></text></g>
<g id="Error409" class="C" transform="translate(3809.9,181.3)"><rect width="48.5" height="37.4"/><path class="l" d="M0 19H48.5M0 32.4H48.5"/><circle cx="8.8" cy="9.7" r="7"/><text class="k" x="8.8" y="12.7">C</text><text class="t" x="17.2" y="12.4">Error409</text><text class="r" y="20"><tspan x="3.6" dy="8.4">code*: string</tspan></text></g>
<g id="Error422" class="C" transform="translate(3880.2,176.3)"><rect width="68.1" height="46.4"/><path class="l" d="M0 19.4H68.1M0 41.4H68.1"/><circle cx="17.5" cy="9.7" r="7"/><text class="k" x="17.5" y="12.7">C</text><text class="t" x="28" y="12.4">Error422</text><text class="r" y="20.5"><tspan x="3.3" dy="8.4">code*: Error422Code</tspan><tspan x="3.3" dy="8.4">propertyPath: string</tspan></text></g>
<g id="Error500" class="C" transform="translate(3970,181.3)"><rect width="48.5" height="37.4"/><path class="l" d="M0 19H48.5M0 32.4H48.5"/><circle cx="8.4" cy="9.7" r="7"/><text class="k" x="8.4" y="12.7">C</text><text class="t" x="17.2" y="12.4">Error500</text><text class="r" y="20"><tspan x="3.6" dy="8.4">code*: string</tspan></text></g>
<g id="Error501" class="C" transform="translate(4039,181.3)"><rect width="49.3" height="37.4"/><path class="l" d="M0 19H49.3M0 32.4H49.3"/><circle cx="9.2" cy="9.7" r="7"/><text class="k" x="9.2" y="12.7">C</text><text class="t" x="18" y="12.4">Error501</text><text class="r" y="20"><tspan x="3.6" dy="8.4">code*: string</tspan></text></g>
<g id="MEFAcceptedRejectedType" class="E" transform="translate(33.3,502.3)"><rect width="109.4" height="46.4"/><path class="l" d="M0 19.7H109.4M0 41.4H109.4"/><circle cx="9" cy="10" r="7"/><text class="k" x="9" y="13">E</text><text class="t" x="17.4" y="12.7">MEFAcceptedRejectedType</text><text class="r" y="20.5"><tspan x="3.5" dy="8.4">accepted</tspan><tspan x="3.5" dy="8.4">rejected</tspan></text></g>
<g id="MEFProductOrderItemStateType" class="E" transform="translate(164.3,469.3)"><rect width="125.4" height="113.4"/><path class="l" d="M0 19H125.4M0 108.4H125.4"/><circle cx="9" cy="10" r="7"/><text class="k" x="9" y="13">E</text><text class="t" x="17.4" y="12.7">MEFProductOrderItemStateType</text><text class="r" y="20"><tspan x="3.5" dy="8.4">acknowledged</tspan><tspan x="3.5" dy="8.4">cancelled</tspan><tspan x="3.5" dy="8.4">completed</tspan><tspan x="3.5" dy="8.4">failed</tspan><tspan x="3.5" dy="8.4">held</tspan><tspan x="3.5" dy="8.4">inProgress</tspan><tspan x="3.5" dy="8.4">pending</tspan><tspan x="3.5" dy="8.4">rejected</tspan><tspan x="3.5" dy="8.4">rejected.validated</tspan><tspan x="3.5" dy="8.4">rejected.unassessed</tspan></text></g>
<g id="Error401Code" class="E" transform="translate(310.3,502.3)"><rect width="67.4" height="46.4"/><path class="l" d="M0 19.7H67.4M0 41.4H67.4"/><circle cx="9.7" cy="10" r="7"/><text class="k" x="9.7" y="13">E</text><text class="t" x="18.4" y="12.7">Error401Code</text><text class="r" y="20.5"><tspan x="4.4" dy="8.4">missingCredentials</tspan><tspan x="4.4" dy="8.4">invalidCredentials</tspan></text></g>
<g id="Error400Code" class="E" transform="translate(399.3,494.3)"><rect width="77.4" height="63.4"/><path class="l" d="M0 19.7H77.4M0 58.4H77.4"/><circle cx="13.4" cy="10" r="7"/><text class="k" x="13.4" y="13">E</text><text class="t" x="23" y="12.7">Error400Code</text><text class="r" y="20.5"><tspan x="3.4" dy="8.4">missingQueryParameter</tspan><tspan x="3.4" dy="8.4">missingQueryValue</tspan><tspan x="3.4" dy="8.4">invalidQuery</tspan><tspan x="3.4" dy="8.4">invalidBody</tspan></text></g>
<g id="MEFChargeableTaskStateType" class="E" transform="translate(497.3,490.3)"><rect width="122.7" height="71.4"/><path class="l" d="M0 19.7H122.7M0 66.4H122.7"/><circle cx="9" cy="10" r="7"/><text class="k" x="9" y="13">E</text><text class="t" x="17.7" y="12.7">MEFChargeableTaskStateType</text><text class="r" y="20.5"><tspan x="3.5" dy="8.4">acknowledged</tspan><tspan x="3.5" dy="8.4">done</tspan><tspan x="3.5" dy="8.4">done.declined</tspan><tspan x="3.5" dy="8.4">inProgress.assessingCharge</tspan><tspan x="3.5" dy="8.4">rejected</tspan></text></g>
<g id="CancellationReasonType" class="E" transform="translate(36.3,675.3)"><rect width="103.7" height="46.4"/><path class="l" d="M0 19H103.7M0 41.4H103.7"/><circle cx="9" cy="10" r="7"/><text class="k" x="9" y="13">E</text><text class="t" x="17.4" y="12.7">CancellationReasonType</text><text class="r" y="20"><tspan x="3.5" dy="8.4">technical</tspan><tspan x="3.5" dy="8.4">commercial</tspan></text></g>
<g id="ProductOrder_Find" class="C" transform="translate(161.3,654.3)"><rect width="109.7" height="88.4"/><path class="l" d="M0 19H109.7M0 83.4H109.7"/><circle cx="21.4" cy="10" r="7"/><text class="k" x="21.4" y="13">C</text><text class="t" x="32.4" y="12.7">ProductOrder_Find</text><text class="r" y="20"><tspan x="3.5" dy="8.4">cancellationDate: date-time</tspan><tspan x="3.5" dy="8.4">completionDate: date-time</tspan><tspan x="3.5" dy="8.4">externalId: string</tspan><tspan x="3.5" dy="8.4">id*: string</tspan><tspan x="3.5" dy="8.4">orderDate*: date-time</tspan><tspan x="3.5" dy="8.4">projectId: string</tspan><tspan x="3.5" dy="8.4">state*: MEFProductOrderStateType</tspan></text></g>
<g id="TimeUnit" class="E" transform="translate(291.3,654.3)"><rect width="57.4" height="88.4"/><path class="l" d="M0 19H57.4M0 83.4H57.4"/><circle cx="12.7" cy="10" r="7"/><text class="k" x="12.7" y="13">E</text><text class="t" x="22" y="12.7">TimeUnit</text><text class="r" y="20"><tspan x="4.3" dy="8.4">calendarMonths</tspan><tspan x="4.3" dy="8.4">calendarDays</tspan><tspan x="4.3" dy="8.4">calendarHours</tspan><tspan x="4.3" dy="8.4">calendarMinutes</tspan><tspan x="4.3" dy="8.4">businessDays</tspan><tspan x="4.3" dy="8.4">businessHours</tspan><tspan x="4.3" dy="8.4">businessMinutes</tspan></text></g>
<g id="MEFProductOrderItem_Create" class="C" transform="translate(1309.8,332.3)"><rect width="119.9" height="29.4"/><path class="l" d="M0 20H119.9M0 25H119.9"/><circle cx="9" cy="10" r="7"/><text class="k" x="9" y="13">C</text><text class="t" x="17.8" y="12.7">MEFProductOrderItem_Create</text></g>
<g id="Note" class="C" transform="translate(1450.2,311.3)"><rect width="95.7" height="71.4"/><path class="l" d="M0 20H95.7M0 66.4H95.7"/><circle cx="37.1" cy="10" r="7"/><text class="k" x="37.1" y="13">C</text><text class="t" x="49.3" y="12.7">Note</text><text class="r" y="20.7"><tspan x="3.6" dy="8.4">author*: string</tspan><tspan x="3.6" dy="8.4">date*: date-time</tspan><tspan x="3.6" dy="8.4">id*: string</tspan><tspan x="3.6" dy="8.4">source*: MEFBuyerSellerType</tspan><tspan x="3.6" dy="8.4">text*: string</tspan></text></g>
<g id="OrderItemRelationship" class="C" transform="translate(1566.2,324.3)"><rect width="96" height="46.4"/><path class="l" d="M0 20H96M0 41.4H96"/><circle cx="9.3" cy="10" r="7"/><text class="k" x="9.3" y="13">C</text><text class="t" x="17.9" y="12.7">OrderItemRelationship</text><text class="r" y="20.7"><tspan x="3.6" dy="8.4">id*: string</tspan><tspan x="3.6" dy="8.4">relationshipType*: string</tspan></text></g>
<g id="MEFProductRefOrValueOrder" class="C" transform="translate(1683.2,324.3)"><rect width="116.8" height="46.4"/><path class="l" d="M0 20H116.8M0 41.4H116.8"/><circle cx="9.3" cy="10" r="7"/><text class="k" x="9.3" y="13">C</text><text class="t" x="17.5" y="12.7">MEFProductRefOrValueOrder</text><text class="r" y="20.7"><tspan x="3.6" dy="8.4">href: string</tspan><tspan x="3.6" dy="8.4">id: string</tspan></text></g>
<g id="ProductOfferingQualificationItemRef" class="C" transform="translate(1820.3,316.3)"><rect width="138.1" height="62.4"/><path class="l" d="M0 20H138.1M0 57.4H138.1"/><circle cx="9.3" cy="10" r="7"/><text class="k" x="9.3" y="13">C</text><text class="t" x="17.8" y="12.7">ProductOfferingQualificationItemRef</text><text class="r" y="20.7"><tspan x="3.6" dy="8.4">alternateProductOfferingProposalId: string</tspan><tspan x="3.6" dy="8.4">id*: string</tspan><tspan x="3.6" dy="8.4">productOfferingQualificationHref: string</tspan><tspan x="3.6" dy="8.4">productOfferingQualificationId*: string</tspan></text></g>
<g id="MEFProductOrderStateChange" class="C" transform="translate(2092.3,320.3)"><rect width="122.4" height="54"/><path class="l" d="M0 19.7H122.4M0 49H122.4"/><circle cx="9.3" cy="10" r="7"/><text class="k" x="9.3" y="13">C</text><text class="t" x="18.2" y="12.7">MEFProductOrderStateChange</text><text class="r" y="20"><tspan x="3.6" dy="8.4">changeDate: date-time</tspan><tspan x="3.6" dy="8.4">changeReason: string</tspan><tspan x="3.6" dy="8.4">state: MEFProductOrderStateType</tspan></text></g>
<g id="Price" class="C" transform="translate(2477.4,328.3)"><rect width="46.5" height="37"/><path class="l" d="M0 19.4H46.5M0 33H46.5"/><circle cx="13.5" cy="10" r="7"/><text class="k" x="13.5" y="13">C</text><text class="t" x="22.9" y="12.7">Price</text><text class="r" y="20.3"><tspan x="3.6" dy="8.4">taxRate: float</tspan></text></g>
<g id="Money" class="C" transform="translate(2478,502.3)"><rect width="46" height="46.4"/><path class="l" d="M0 19.7H46M0 41.4H46"/><circle cx="10" cy="10" r="7"/><text class="k" x="10" y="13">C</text><text class="t" x="20" y="12.7">Money</text><text class="r" y="20.5"><tspan x="3.6" dy="8.4">unit: string</tspan><tspan x="3.6" dy="8.4">value: float</tspan></text></g>
<g id="TerminationError" class="C" transform="translate(928.5,498.3)"><rect width="76.5" height="54.4"/><path class="l" d="M0 19.7H76.5M0 49.4H76.5"/><circle cx="9.2" cy="10" r="7"/><text class="k" x="9.2" y="13">C</text><text class="t" x="17.4" y="12.7">TerminationError</text><text class="r" y="20.5"><tspan x="3.6" dy="8.4">code: Error422Code</tspan><tspan x="3.6" dy="8.4">propertyPath: string</tspan><tspan x="3.6" dy="8.4">value: string</tspan></text></g>
<g id="MEFMilestone" class="C" transform="translate(1025.4,498.3)"><rect width="66.3" height="54.4"/><path class="l" d="M0 19.7H66.3M0 49.4H66.3"/><circle cx="8.2" cy="10" r="7"/><text class="k" x="8.2" y="13">C</text><text class="t" x="16.8" y="12.7">MEFMilestone</text><text class="r" y="20.5"><tspan x="3.4" dy="8.4">date*: date-time</tspan><tspan x="3.4" dy="8.4">name*: string</tspan><tspan x="3.4" dy="8.4">note: string</tspan></text></g>
<g id="MEFItemTerm" class="C" transform="translate(1112.1,498.3)"><rect width="129.6" height="54.4"/><path class="l" d="M0 19.7H129.6M0 49.4H129.6"/><circle cx="38.8" cy="10" r="7"/><text class="k" x="38.8" y="13">C</text><text class="t" x="51" y="12.7">MEFItemTerm</text><text class="r" y="20.5"><tspan x="3.8" dy="8.4">description: string</tspan><tspan x="3.8" dy="8.4">endOfTermAction*: MEFEndOfTermAction</tspan><tspan x="3.8" dy="8.4">name*: string</tspan></text></g>
<g id="MEFOrderItemCoordinatedAction" class="C" transform="translate(1190.1,405.3)"><rect width="216.1" height="45.4"/><path class="l" d="M0 19.4H216.1M0 40.4H216.1"/><circle cx="50.5" cy="10" r="7"/><text class="k" x="50.5" y="13">C</text><text class="t" x="63.3" y="12.7">MEFOrderItemCoordinatedAction</text><text class="r" y="20.5"><tspan x="4" dy="8.4">coordinationDependency*: MEFOrderItemCoordinationDependencyType</tspan><tspan x="4" dy="8.4">itemId*: string</tspan></text></g>
<g id="MEFProductOrderItemStateChange" class="C" transform="translate(1389.5,498.3)"><rect width="136.7" height="54.4"/><path class="l" d="M0 19.7H136.7M0 49.4H136.7"/><circle cx="9.2" cy="10" r="7"/><text class="k" x="9.2" y="13">C</text><text class="t" x="16.7" y="12.7">MEFProductOrderItemStateChange</text><text class="r" y="20.5"><tspan x="3.4" dy="8.4">changeDate: date-time</tspan><tspan x="3.4" dy="8.4">changeReason: string</tspan><tspan x="3.4" dy="8.4">state: MEFProductOrderItemStateType</tspan></text></g>
<g id="RelatedPlaceRefOrValue" class="C" transform="translate(1546.8,498.3)"><rect width="103.3" height="54.4"/><path class="l" d="M0 19.7H103.3M0 49.4H103.3"/><circle cx="9.2" cy="10" r="7"/><text class="k" x="9.2" y="13">C</text><text class="t" x="17.2" y="12.7">RelatedPlaceRefOrValue</text><text class="r" y="20.5"><tspan x="3.4" dy="8.4">@schemaLocation: uri</tspan><tspan x="3.4" dy="8.4">@type*: string</tspan><tspan x="3.4" dy="8.4">role*: string</tspan></text></g>
<g id="MEFProductConfiguration" class="C" transform="translate(1670.8,506.3)"><rect width="104.5" height="38.4"/><path class="l" d="M0 19.7H104.5M0 33.4H104.5"/><circle cx="8.6" cy="10" r="7"/><text class="k" x="8.6" y="13">C</text><text class="t" x="16.7" y="12.7">MEFProductConfiguration</text><text class="r" y="20.5"><tspan x="3.4" dy="8.4">@type*: string</tspan></text></g>
<g id="ProductOfferingRef" class="C" transform="translate(1795.4,502.3)"><rect width="83.8" height="46.4"/><path class="l" d="M0 19.7H83.8M0 41.4H83.8"/><circle cx="9.7" cy="10" r="7"/><text class="k" x="9.7" y="13">C</text><text class="t" x="18.3" y="12.7">ProductOfferingRef</text><text class="r" y="20.5"><tspan x="4" dy="8.4">href: string</tspan><tspan x="4" dy="8.4">id*: string</tspan></text></g>
<g id="ProductRelationship" class="C" transform="translate(1899.8,498.3)"><rect width="86.7" height="54.4"/><path class="l" d="M0 19.7H86.7M0 49.4H86.7"/><circle cx="8.6" cy="10" r="7"/><text class="k" x="8.6" y="13">C</text><text class="t" x="17.2" y="12.7">ProductRelationship</text><text class="r" y="20.5"><tspan x="3.4" dy="8.4">href: string</tspan><tspan x="3.4" dy="8.4">id*: string</tspan><tspan x="3.4" dy="8.4">relationshipType*: string</tspan></text></g>
<g id="MEFProductOrderChargeRef" class="C" transform="translate(2104.7,502.3)"><rect width="116" height="46.4"/><path class="l" d="M0 19.7H116M0 41.4H116"/><circle cx="9.3" cy="10" r="7"/><text class="k" x="9.3" y="13">C</text><text class="t" x="16.7" y="12.7">MEFProductOrderChargeRef</text><text class="r" y="20.5"><tspan x="3.4" dy="8.4">href: string</tspan><tspan x="3.4" dy="8.4">id*: string</tspan></text></g>
<g id="FieldedAddress" class="C" transform="translate(952.5,629.3)"><rect width="83.3" height="138.7"/><path class="l" d="M0 19.7H83.3M0 133.7H83.3"/><circle cx="13.8" cy="10" r="7"/><text class="k" x="13.8" y="13">C</text><text class="t" x="23.5" y="12.7">FieldedAddress</text><text class="r" y="20.5"><tspan x="3.5" dy="8.4">city*: string</tspan><tspan x="3.5" dy="8.4">country*: string</tspan><tspan x="3.5" dy="8.4">locality: string</tspan><tspan x="3.5" dy="8.4">postcode: string</tspan><tspan x="3.5" dy="8.4">postcodeExtension: string</tspan><tspan x="3.5" dy="8.4">stateOrProvince: string</tspan><tspan x="3.5" dy="8.4">streetName*: string</tspan><tspan x="3.5" dy="8.4">streetNr: string</tspan><tspan x="3.5" dy="8.4">streetNrLast: string</tspan><tspan x="3.5" dy="8.4">streetNrLastSuffix: string</tspan><tspan x="3.5" dy="8.4">streetNrSuffix: string</tspan><tspan x="3.5" dy="8.4">streetSuffix: string</tspan><tspan x="3.5" dy="8.4">streetType: string</tspan></text></g>
<g id="GeographicSubAddress" class="C" transform="translate(944.8,814.3)"><rect width="98.9" height="71.4"/><path class="l" d="M0 19H98.9M0 66.4H98.9"/><circle cx="9.1" cy="10" r="7"/><text class="k" x="9.1" y="13">C</text><text class="t" x="17.5" y="12.7">GeographicSubAddress</text><text class="r" y="20"><tspan x="3.4" dy="8.4">buildingName: string</tspan><tspan x="3.4" dy="8.4">levelNumber: string</tspan><tspan x="3.4" dy="8.4">levelType: string</tspan><tspan x="3.4" dy="8.4">privateStreetName: string</tspan><tspan x="3.4" dy="8.4">privateStreetNumber: string</tspan></text></g>
<g id="MEFSubUnit" class="C" transform="translate(957.4,932.3)"><rect width="74.4" height="46.4"/><path class="l" d="M0 19.7H74.4M0 41.4H74.4"/><circle cx="14.8" cy="10" r="7"/><text class="k" x="14.8" y="13">C</text><text class="t" x="24.6" y="12.7">MEFSubUnit</text><text class="r" y="20.5"><tspan x="3.4" dy="8.4">subUnitNumber*: string</tspan><tspan x="3.4" dy="8.4">subUnitType*: string</tspan></text></g>
<g id="Duration" class="C" transform="translate(1210.7,675.3)"><rect width="54" height="46.4"/><path class="l" d="M0 19H54M0 41.4H54"/><circle cx="11.2" cy="10" r="7"/><text class="k" x="11.2" y="13">C</text><text class="t" x="20.3" y="12.7">Duration</text><text class="r" y="20"><tspan x="3.4" dy="8.4">amount*: integer</tspan><tspan x="3.4" dy="8.4">units*: TimeUnit</tspan></text></g>
<g id="FormattedAddress" class="C" transform="translate(1333.4,650.7)"><rect width="84.2" height="96"/><path class="l" d="M0 18.6H84.2M0 91H84.2"/><circle cx="9.8" cy="10" r="7"/><text class="k" x="9.8" y="13">C</text><text class="t" x="19" y="12.7">FormattedAddress</text><text class="r" y="19.4"><tspan x="3.4" dy="8.4">addrLine1*: string</tspan><tspan x="3.4" dy="8.4">addrLine2: string</tspan><tspan x="3.4" dy="8.4">city*: string</tspan><tspan x="3.4" dy="8.4">country*: string</tspan><tspan x="3.4" dy="8.4">locality: string</tspan><tspan x="3.4" dy="8.4">postcode: string</tspan><tspan x="3.4" dy="8.4">postcodeExtension: string</tspan><tspan x="3.4" dy="8.4">stateOrProvince: string</tspan></text></g>
<g id="GeographicAddressRef" class="C" transform="translate(1437.2,675.3)"><rect width="99" height="46.4"/><path class="l" d="M0 19H99M0 41.4H99"/><circle cx="9.8" cy="10" r="7"/><text class="k" x="9.8" y="13">C</text><text class="t" x="18.3" y="12.7">GeographicAddressRef</text><text class="r" y="20"><tspan x="3.6" dy="8.4">href: string</tspan><tspan x="3.6" dy="8.4">id*: string</tspan></text></g>
<g id="GeographicSiteRef" class="C" transform="translate(1556.5,675.3)"><rect width="83.5" height="46.4"/><path class="l" d="M0 19H83.5M0 41.4H83.5"/><circle cx="9.1" cy="10" r="7"/><text class="k" x="9.1" y="13">C</text><text class="t" x="17.5" y="12.7">GeographicSiteRef</text><text class="r" y="20"><tspan x="3.6" dy="8.4">href: string</tspan><tspan x="3.6" dy="8.4">id*: string</tspan></text></g>
<g id="GeographicAddressLabel" class="C" transform="translate(1660.3,675.3)"><rect width="107" height="46.4"/><path class="l" d="M0 19H107M0 41.4H107"/><circle cx="9.9" cy="10" r="7"/><text class="k" x="9.9" y="13">C</text><text class="t" x="19" y="12.7">GeographicAddressLabel</text><text class="r" y="20"><tspan x="3.6" dy="8.4">externalReferenceId*: string</tspan><tspan x="3.6" dy="8.4">externalReferenceType*: string</tspan></text></g>
<g id="GeographicPoint" class="C" transform="translate(1789,666.3)"><rect width="78" height="63.4"/><path class="l" d="M0 19.7H78M0 58.4H78"/><circle cx="9.5" cy="10" r="7"/><text class="k" x="9.5" y="13">C</text><text class="t" x="18" y="12.7">GeographicPoint</text><text class="r" y="20.5"><tspan x="3.6" dy="8.4">spatialRef*: string</tspan><tspan x="3.6" dy="8.4">x*: string</tspan><tspan x="3.6" dy="8.4">y*: string</tspan><tspan x="3.6" dy="8.4">z: string</tspan></text></g>
</svg>
